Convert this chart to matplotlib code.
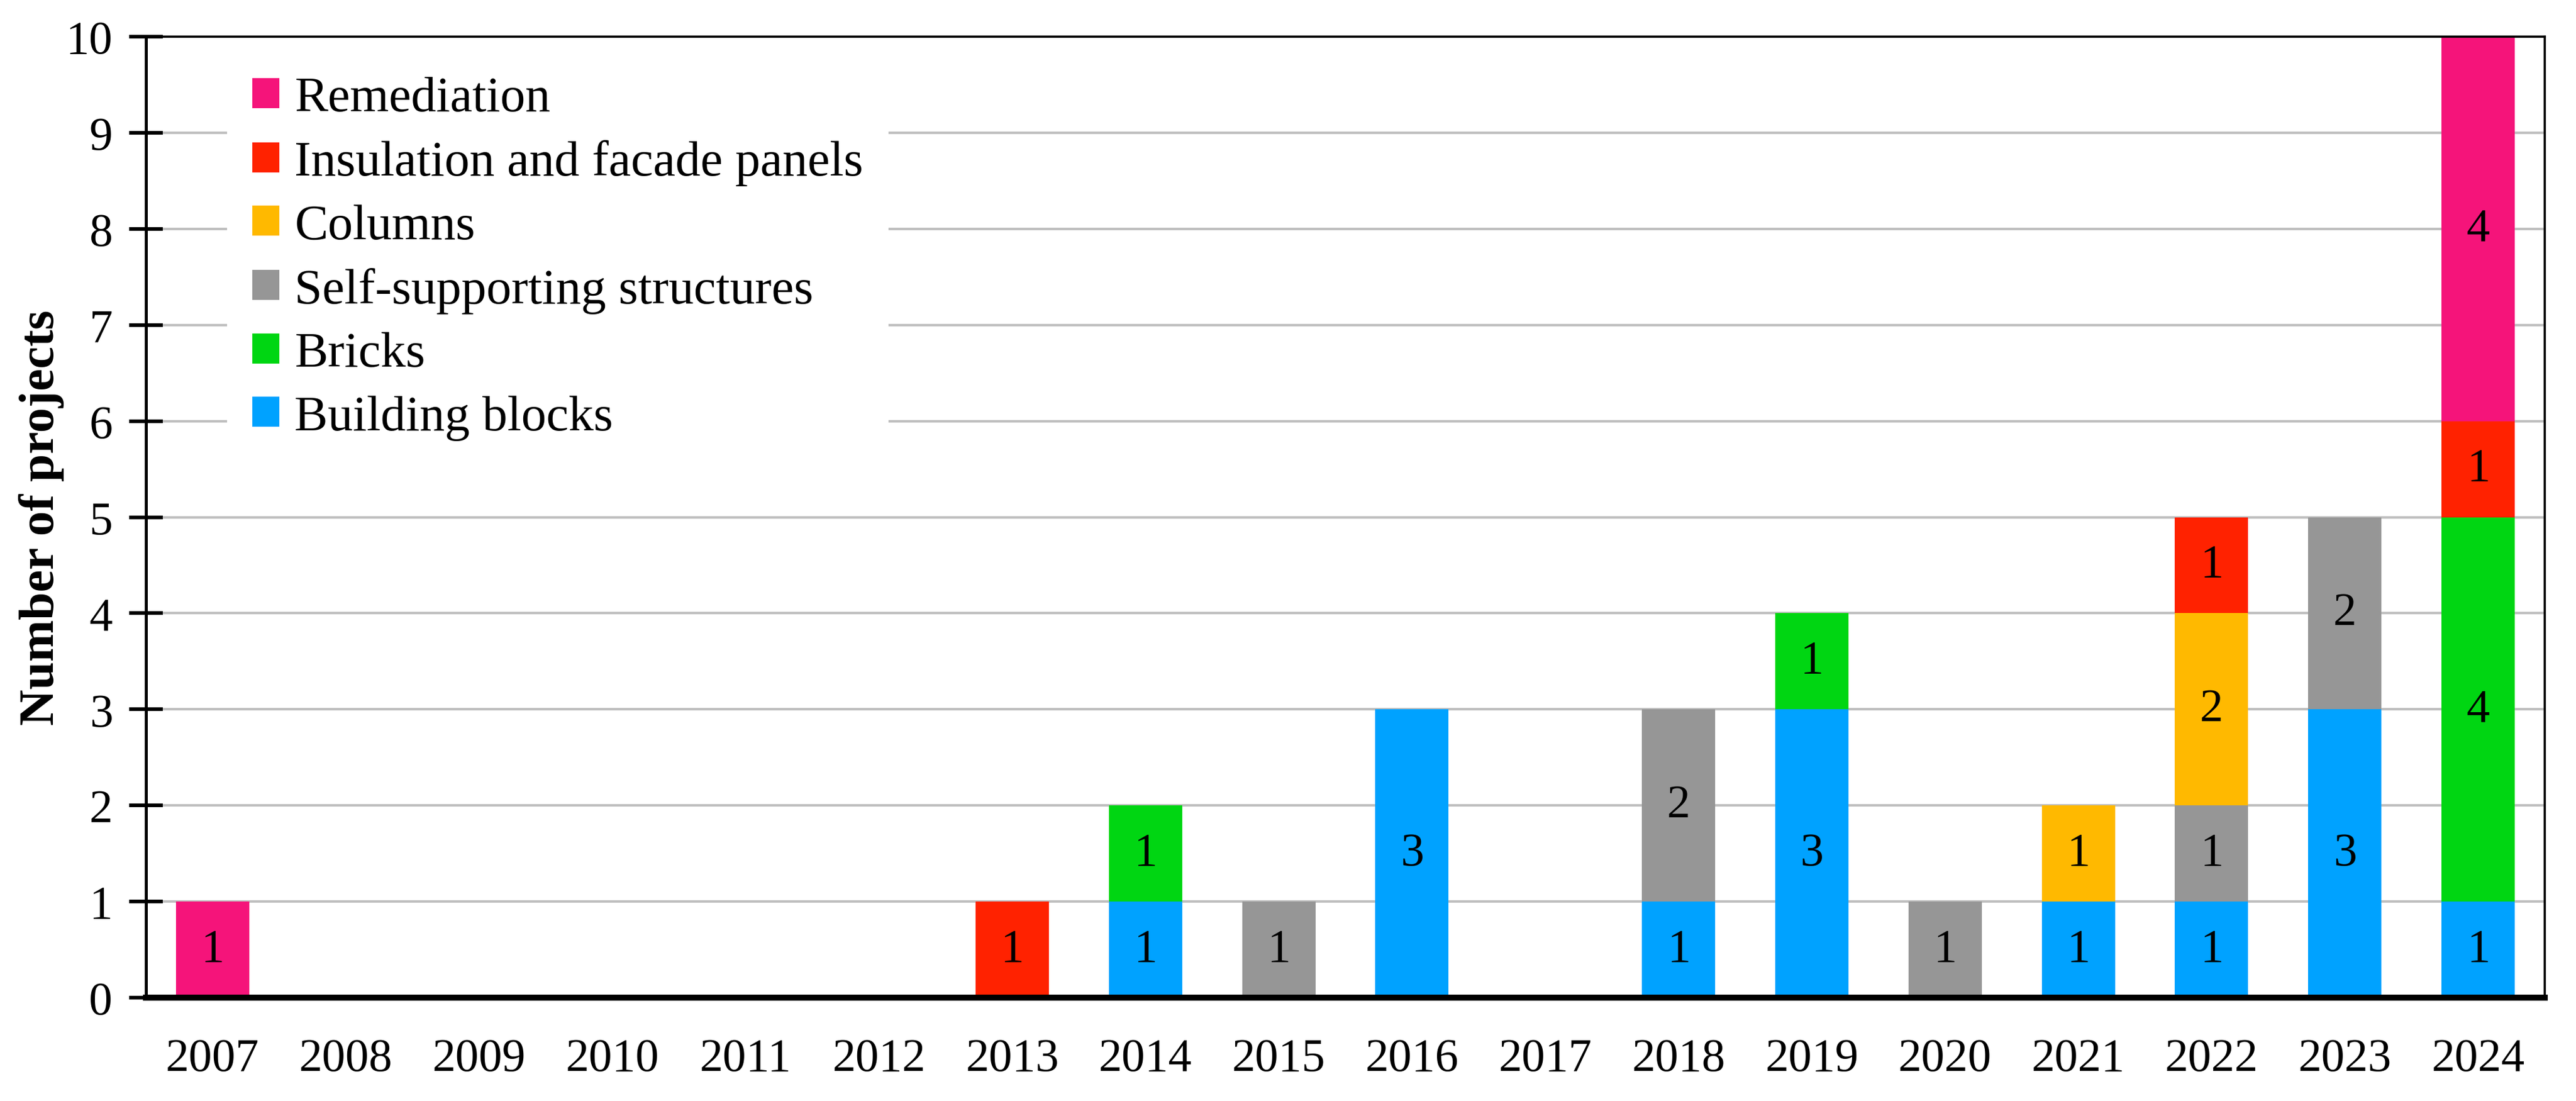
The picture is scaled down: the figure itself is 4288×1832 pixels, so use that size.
import matplotlib
matplotlib.use("Agg")
import matplotlib.pyplot as plt
from matplotlib.patches import Patch
import numpy as np

years = ["2007", "2008", "2009", "2010", "2011", "2012", "2013", "2014", "2015",
         "2016", "2017", "2018", "2019", "2020", "2021", "2022", "2023", "2024"]

building_blocks = [0, 0, 0, 0, 0, 0, 0, 1, 0, 3, 0, 1, 3, 0, 1, 1, 3, 1]
bricks          = [0, 0, 0, 0, 0, 0, 0, 1, 0, 0, 0, 0, 1, 0, 0, 0, 0, 4]
self_supporting = [0, 0, 0, 0, 0, 0, 0, 0, 1, 0, 0, 2, 0, 1, 0, 1, 2, 0]
columns         = [0, 0, 0, 0, 0, 0, 0, 0, 0, 0, 0, 0, 0, 0, 1, 2, 0, 0]
insulation      = [0, 0, 0, 0, 0, 0, 1, 0, 0, 0, 0, 0, 0, 0, 0, 1, 0, 1]
remediation     = [1, 0, 0, 0, 0, 0, 0, 0, 0, 0, 0, 0, 0, 0, 0, 0, 0, 4]

series_names = ["Building blocks", "Bricks", "Self-supporting structures",
                "Columns", "Insulation and facade panels", "Remediation"]
series_values = [building_blocks, bricks, self_supporting, columns, insulation, remediation]
series_colors = ["#00A2FF", "#00D612", "#969696", "#FFB900", "#FF2200", "#F5147A"]

plt.rcParams['font.family'] = ['Liberation Serif', 'DejaVu Serif']

fig = plt.figure(figsize=(21.44, 9.165), dpi=200)
ax = fig.add_axes([243/4288, 1 - 1661/1833, (4236-243)/4288, (1661-62)/1833])

x = np.arange(len(years))
bottom = np.zeros(len(years))
for name, vals, col in zip(series_names, series_values, series_colors):
    vals = np.array(vals, dtype=float)
    ax.bar(x, vals, width=0.55, bottom=bottom, color=col, zorder=3, linewidth=0)
    for xi, v, b in zip(x, vals, bottom):
        if v > 0:
            ax.text(xi, b + v / 2, f"{int(v)}", ha='center', va='center',
                    fontsize=28, zorder=4)
    bottom += vals

ax.set_xlim(-0.5, len(years) - 0.5)
ax.set_ylim(0, 10)
ax.set_yticks(range(0, 11))
ax.set_xticks(x)
ax.set_xticklabels(years)
ax.tick_params(axis='x', length=0, pad=24, labelsize=28)
ax.tick_params(axis='y', direction='inout', length=20, width=2.2, pad=10, labelsize=28)
ax.yaxis.grid(True, color='#bfbfbf', linewidth=1.5, zorder=0)
ax.set_axisbelow(True)

ax.spines['left'].set_linewidth(1.8)
ax.spines['bottom'].set_linewidth(3.6)
ax.spines['top'].set_linewidth(1.3)
ax.spines['right'].set_linewidth(1.3)
for s in ax.spines.values():
    s.set_zorder(5)

ax.set_ylabel("Number of projects", fontsize=30, fontweight='bold')
ax.yaxis.set_label_coords(-0.034, 0.5)

handles = [Patch(facecolor=c, edgecolor='none') for c in series_colors][::-1]
labels = series_names[::-1]
leg = ax.legend(handles, labels, loc='upper left', bbox_to_anchor=(0.0338, 0.985),
                fontsize=30, frameon=True, facecolor='white', edgecolor='none',
                framealpha=1, fancybox=False, handlelength=0.55, handleheight=0.55,
                handletextpad=0.3, labelspacing=0.36, borderpad=0.5, borderaxespad=0)
leg.set_zorder(4)

fig.savefig("out.png", dpi=200)
